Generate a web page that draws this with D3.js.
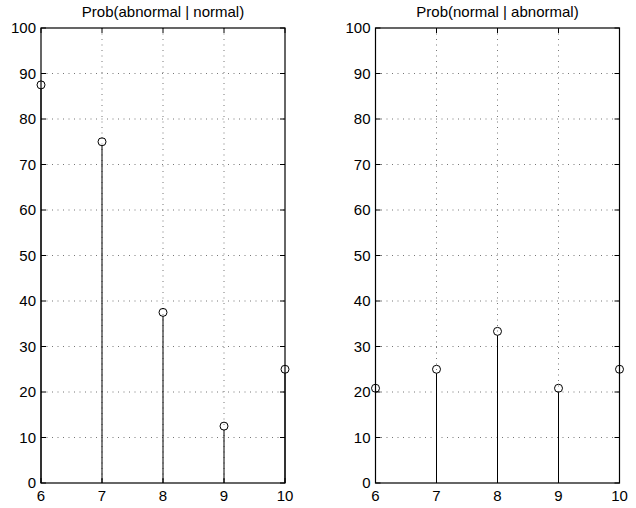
<!DOCTYPE html>
<html lang="en">
<head>
    <meta charset="UTF-8">
    <title>Stem plots</title>
    <script src="https://d3js.org/d3.v7.min.js"></script>
    <style>
        body { margin: 0; background: #fff; }
        svg { display: block; font-family: "Liberation Sans", Arial, sans-serif; }
        .grid line { stroke: #777; stroke-width: 1; stroke-dasharray: 1,4.5; }
        .stem { stroke: #000; stroke-width: 1; }
        .marker { fill: none; stroke: #000; stroke-width: 1; }
        .frame { fill: none; stroke: #000; stroke-width: 1.2; }
        .tick-mark { stroke: #000; stroke-width: 1; }
        text { font-size: 15px; fill: #000; }
    </style>
</head>
<body>
<script>
    const width = 636;
    const height = 508;

    const xValues = [6, 7, 8, 9, 10];
    const yTicks = [0, 10, 20, 30, 40, 50, 60, 70, 80, 90, 100];
    const titles = ["Prob(abnormal | normal)", "Prob(normal | abnormal)"];
    const abnormalGivenNormal = [87.5, 75, 37.5, 12.5, 25];
    const normalGivenAbnormal = [20.83, 25, 33.33, 20.83, 25];

    const panels = [
        {title: titles[0], values: abnormalGivenNormal, left: 41},
        {title: titles[1], values: normalGivenAbnormal, left: 375.5}
    ];
    const plotW = 244, plotTop = 28, plotBottom = 483;

    const svg = d3.select("body").append("svg")
            .attr("width", width).attr("height", height);

    panels.forEach(function(p) {
        const x = d3.scaleLinear().domain([6, 10]).range([p.left, p.left + plotW]);
        const y = d3.scaleLinear().domain([0, 100]).range([plotBottom, plotTop]);
        const g = svg.append("g");

        // dotted grid
        const grid = g.append("g").attr("class", "grid");
        grid.selectAll("line.v")
            .data(xValues.slice(1, -1))
            .enter().append("line")
            .attr("x1", d => x(d)).attr("x2", d => x(d))
            .attr("y1", plotTop).attr("y2", plotBottom);
        grid.selectAll("line.h")
            .data(yTicks.slice(1, -1))
            .enter().append("line")
            .attr("y1", d => y(d)).attr("y2", d => y(d))
            .attr("x1", p.left).attr("x2", p.left + plotW);

        // inward ticks on all four sides
        const tl = 5;
        xValues.forEach(function(v) {
            g.append("line").attr("class", "tick-mark")
                .attr("x1", x(v)).attr("x2", x(v)).attr("y1", plotBottom).attr("y2", plotBottom - tl);
            g.append("line").attr("class", "tick-mark")
                .attr("x1", x(v)).attr("x2", x(v)).attr("y1", plotTop).attr("y2", plotTop + tl);
        });
        yTicks.forEach(function(v) {
            g.append("line").attr("class", "tick-mark")
                .attr("x1", p.left).attr("x2", p.left + tl).attr("y1", y(v)).attr("y2", y(v));
            g.append("line").attr("class", "tick-mark")
                .attr("x1", p.left + plotW).attr("x2", p.left + plotW - tl).attr("y1", y(v)).attr("y2", y(v));
        });

        g.append("rect").attr("class", "frame")
            .attr("x", p.left).attr("y", plotTop)
            .attr("width", plotW).attr("height", plotBottom - plotTop);

        // tick labels
        g.selectAll("text.xl")
            .data(xValues)
            .enter().append("text")
            .attr("x", d => x(d)).attr("y", plotBottom + 18)
            .attr("text-anchor", "middle")
            .text(d => d);
        g.selectAll("text.yl")
            .data(yTicks)
            .enter().append("text")
            .attr("x", p.left - 5).attr("y", d => y(d) + 5)
            .attr("text-anchor", "end")
            .text(d => d);

        g.append("text")
            .attr("x", p.left + plotW / 2).attr("y", 17)
            .attr("text-anchor", "middle")
            .text(p.title);

        // stems and markers
        const data = xValues.map((v, i) => ({x: v, y: p.values[i]}));
        g.selectAll("line.stem")
            .data(data)
            .enter().append("line")
            .attr("class", "stem")
            .attr("x1", d => x(d.x)).attr("x2", d => x(d.x))
            .attr("y1", y(0)).attr("y2", d => y(d.y) + 4);
        g.selectAll("circle.marker")
            .data(data)
            .enter().append("circle")
            .attr("class", "marker")
            .attr("r", 4)
            .attr("cx", d => x(d.x)).attr("cy", d => y(d.y));
    });
</script>
</body>
</html>
